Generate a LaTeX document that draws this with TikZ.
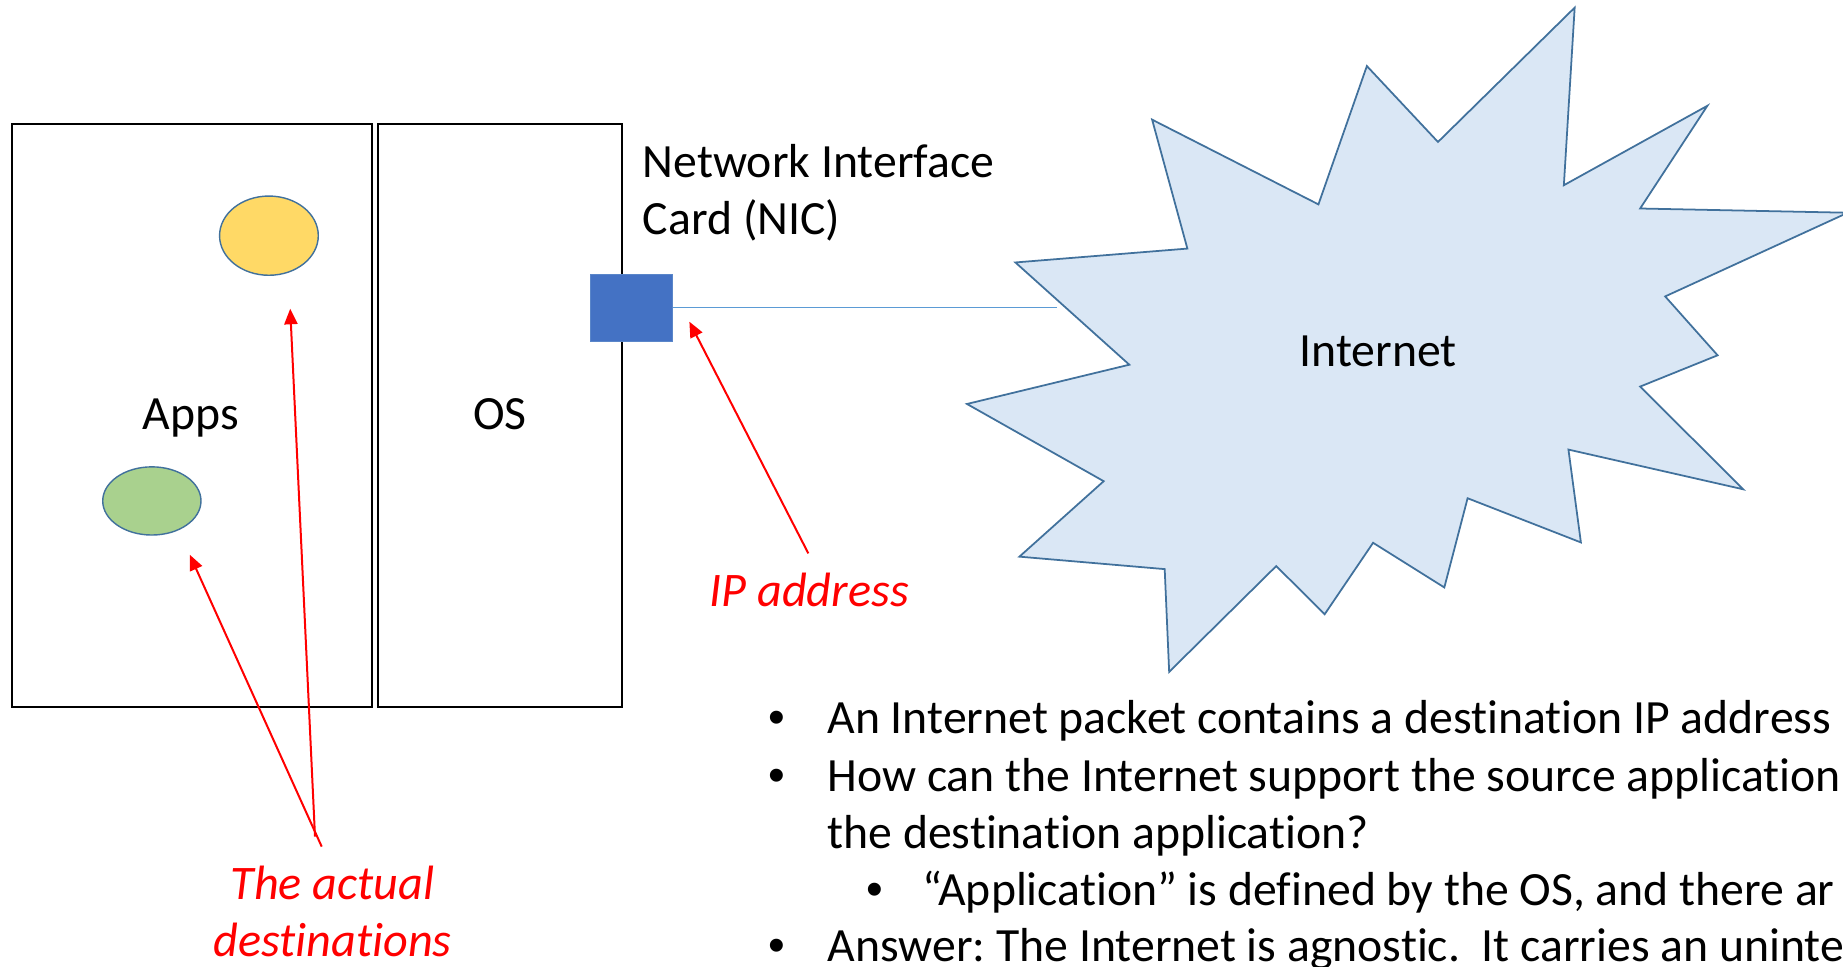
\documentclass[tikz,border=0pt]{standalone}
\usepackage{fontspec}
\setmainfont{Carlito}[Ligatures=NoCommon]
\newfontfamily\bulletfont{Liberation Sans}
\usetikzlibrary{arrows.meta,shapes.geometric}
\frenchspacing

\definecolor{nicblue}{HTML}{4472C4}
\definecolor{nicedge}{HTML}{5A86C9}
\definecolor{linkblue}{HTML}{5B9BD5}
\definecolor{edgeblue}{HTML}{41719C}
\definecolor{cloudfill}{HTML}{DAE7F5}
\definecolor{appyellow}{HTML}{FFD966}
\definecolor{appgreen}{HTML}{A9D18E}
\definecolor{notered}{HTML}{FF0000}

\tikzset{
  txt/.style={inner sep=0pt, outer sep=0pt, font=\fontsize{20.3}{24}\selectfont},
  note/.style={txt, text=notered, font=\fontsize{20.5}{24}\selectfont\itshape},
  dot/.style={txt, font=\fontsize{20.3}{24}\selectfont\bulletfont},
  hostbox/.style={draw=black, line width=0.85pt, rectangle, inner sep=0pt},
  appdot/.style={ellipse, draw=edgeblue, line width=0.6pt, inner sep=0pt},
  pointer/.style={draw=notered, line width=0.85pt, -{Triangle[length=6.6pt, width=5.6pt]}},
}

\begin{document}
\begin{tikzpicture}[x=0.5pt, y=-0.5pt]
  \useasboundingbox (0,0) rectangle (1568,822);
  \fill[white] (0,0) rectangle (1568,822);
  \clip (0,0) rectangle (1568,822);

  % host: applications and operating system
  \node[hostbox, minimum width=152.9pt, minimum height=248.15pt] (apps) at (163.5,353.35) {};
  \node[hostbox, minimum width=103.9pt, minimum height=248.15pt] (os) at (425.2,353.35) {};
  \node[txt, anchor=base] (appslbl) at (162.2,365.3) {Apps};
  \node[txt, anchor=base] (oslbl) at (425.4,365.6) {OS};

  % the two applications
  \node[appdot, fill=appyellow, minimum width=42pt, minimum height=33.7pt] (yapp) at (228.8,200.5) {};
  \node[appdot, fill=appgreen, minimum width=41.8pt, minimum height=29pt] (gapp) at (129.2,426.2) {};

  % the Internet cloud
  \filldraw[fill=cloudfill, draw=edgeblue, line width=0.75pt, line join=miter]
    (1339.7,6.5) -- (1330.5,157.6) -- (1452.6,90) -- (1395.4,177.4) -- (1572,181)
    -- (1416.7,252.2) -- (1461.3,302.3) -- (1395.4,328.9) -- (1483.1,416.3)
    -- (1334.4,382.5) -- (1345,461.5) -- (1248.6,423.9) -- (1228.8,499.8)
    -- (1168.2,461.8) -- (1127,522.6) -- (1085.8,481.6) -- (994.7,571.6)
    -- (990.9,484.2) -- (867.3,473.6) -- (939,409.4) -- (822.7,343.7)
    -- (960.8,310.3) -- (863.9,223.3) -- (1010.2,211.5) -- (980.2,101.8)
    -- (1121.7,173.9) -- (1162.9,56.2) -- (1223.4,120.8) -- cycle;
  \node[txt, anchor=base] (netlbl) at (1172.5,312.2) {Internet};

  % network interface card and its link
  \node[rectangle, fill=nicblue, draw=nicedge, line width=0.4pt, inner sep=0pt,
        minimum width=35pt, minimum height=28.35pt] (nic) at (537,261.75) {};
  \coordinate (cloudedge) at (899.3,261.75);
  \draw[linkblue, line width=0.7pt] (nic.east) -- (cloudedge);
  \node[txt, anchor=base west] (nic1) at (547,150.7) {Network Interface};
  \node[txt, anchor=base west] (nic2) at (547,199.4) {Card (NIC)};

  % red annotations
  \node[note, anchor=base] (iplbl) at (688.4,516.1) {IP address};
  \coordinate (ipfrom) at (687.7,470.8);
  \coordinate (ipto) at (586.5,273.7);
  \draw[pointer] (ipfrom) -- (ipto);

  \node[note, anchor=base] (dest1) at (282.9,765.7) {The actual};
  \node[note, anchor=base] (dest2) at (282.9,813.9) {destinations};
  \coordinate (fromy) at (268,711.8);
  \coordinate (fromg) at (273.7,720.3);
  \coordinate (toy) at (246.9,262.7);
  \coordinate (tog) at (161.4,471.9);
  \draw[pointer] (fromy) -- (toy);
  \draw[pointer] (fromg) -- (tog);

  % bullet points
  \node[dot, anchor=base west] (b1) at (654,624) {•};
  \node[txt, anchor=base west] (t1) at (704,624) {An Internet packet contains a destination IP address};
  \node[dot, anchor=base west] (b2) at (654,673) {•};
  \node[txt, anchor=base west] (t2) at (704,673) {How can the Internet support the source application};
  \node[txt, anchor=base west] (t3) at (704,722) {the destination application?};
  \node[dot, anchor=base west] (b4) at (737,770) {•};
  \node[txt, anchor=base west] (t4) at (784.7,770) {“Application” is defined by the OS, and there ar};
  \node[dot, anchor=base west] (b5) at (654,818) {•};
  \node[txt, anchor=base west] (t5) at (704,818) {Answer: The Internet is agnostic.\ \ It carries an uninte};
\end{tikzpicture}
\end{document}
